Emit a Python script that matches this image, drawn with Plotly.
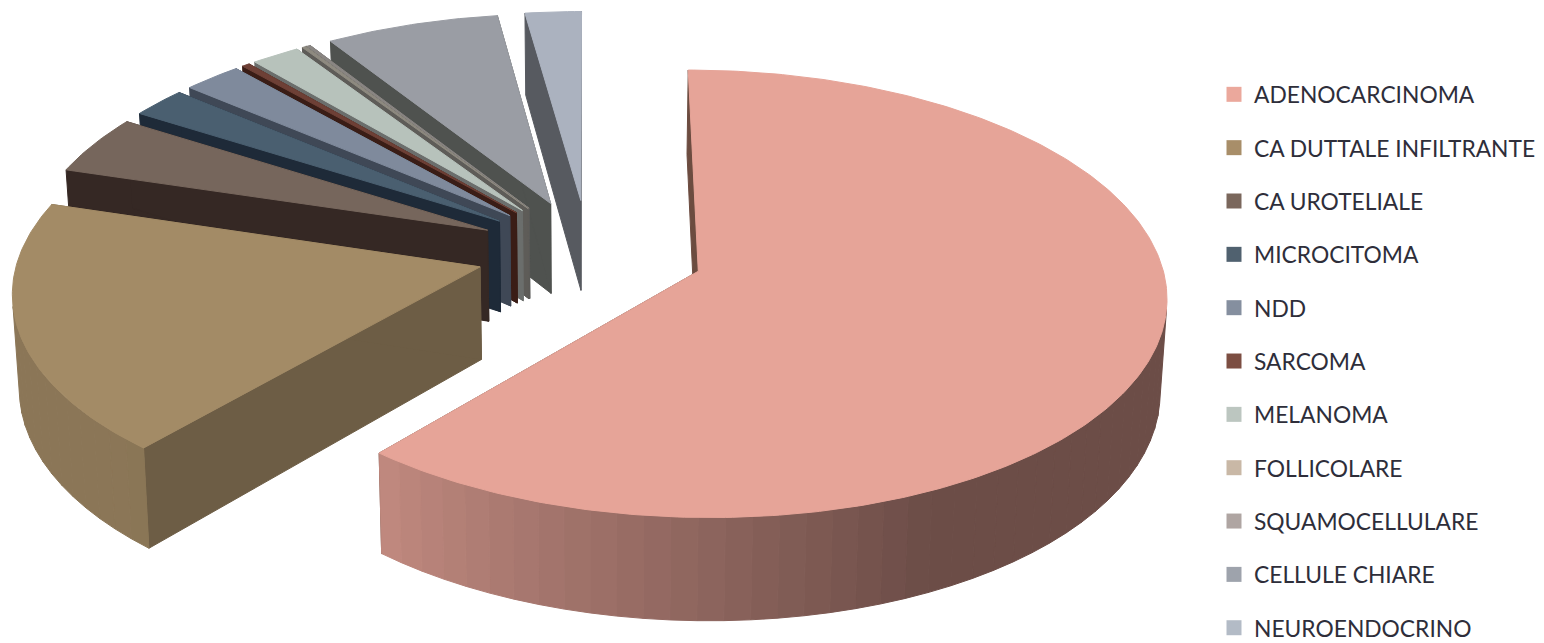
import math
import plotly.graph_objects as go

# Share of each histotype, clockwise from twelve o'clock
categories = ["ADENOCARCINOMA", "CA DUTTALE INFILTRANTE", "CA UROTELIALE", "MICROCITOMA", "NDD",
              "SARCOMA", "MELANOMA", "FOLLICOLARE", "SQUAMOCELLULARE", "CELLULE CHIARE", "NEUROENDOCRINO"]
values = [61.3, 18.4, 4.3, 2.2, 2.3, 0.3, 1.9, 0.15, 0.15, 6.8, 2.2]

legend_colors = ["#EBA89C", "#A88E69", "#7A675C", "#50616F", "#858F9F", "#7C4E42",
                 "#BCC6C0", "#C9B8A6", "#AFA5A2", "#9EA3AC", "#B3BBC6"]
top_colors = ["#E6A498", "#A38B66", "#76665C", "#4A5F70", "#7F8A9C", "#6E4036",
              "#B7C2BB", "#8E8A80", "#8A8683", "#9A9DA4", "#ABB2BF"]
wall_colors = ["#6C4C40", "#6D5D45", "#352824", "#1E2A38", "#3F4856", "#3A1D16",
               "#6B6E6C", "#5E5C58", "#5A5A58", "#4F524F", "#575A60"]
# Radial explode distance of each slice
pulls = [0.252, 0.243, 0.243, 0.243, 0.243, 0.243, 0.243, 0.243, 0.243, 0.243, 0.243]

# Perspective projection of the tilted pie
CX, CY = 588.4, 252.0   # screen position of the pie axis
A, B = 461.0, 217.6     # horizontal and vertical screen radius
K = 0.100               # strength of the foreshortening towards the back
DEPTH = 92.0            # slice thickness on screen
TAPER = 0.012           # horizontal narrowing at the underside


def project(u, v, low=False):
    s = 1.0 / (1.0 + K * v)
    x = CX + A * u * s
    y = CY - B * v * s
    if low:
        x = CX + (x - CX) * (1.0 - TAPER)
        y += DEPTH * s
    return x, y


def shade(color, f):
    r, g, b = (int(color[i:i + 2], 16) for i in (1, 3, 5))
    return f"rgb({r * f:.0f},{g * f:.0f},{b * f:.0f})"


def rim_factor(theta_deg):
    t = min(1.0, max(0.0, (theta_deg - 155.0) / 68.0))
    return 0.47 + 0.38 * t


def signed_area(pts):
    return sum(pts[n][0] * pts[(n + 1) % len(pts)][1] - pts[(n + 1) % len(pts)][0] * pts[n][1]
               for n in range(len(pts))) / 2


def add_poly(fig, pts, color):
    xs, ys = zip(*pts)
    fig.add_trace(go.Scatter(x=list(xs) + [xs[0]], y=list(ys) + [ys[0]], mode="lines", fill="toself",
                             fillcolor=color, line=dict(color=color, width=1),
                             showlegend=False, hoverinfo="skip"))


total = sum(values)
slices = []
start = 0.0
for value in values:
    sweep = 360.0 * value / total
    slices.append((start, start + sweep))
    start += sweep

fig = go.Figure()

# Paint from the back of the pie to the front
for i in reversed(range(len(values))):
    a0, a1 = slices[i]
    mid = math.radians((a0 + a1) / 2)
    u0, v0 = pulls[i] * math.sin(mid), pulls[i] * math.cos(mid)
    steps = max(2, int((a1 - a0) / 3))
    angles = [a0 + (a1 - a0) * k / steps for k in range(steps + 1)]
    rim = [(u0 + math.sin(math.radians(t)), v0 + math.cos(math.radians(t))) for t in angles]

    # radial faces
    for end in (rim[0], rim[-1]):
        add_poly(fig, [project(u0, v0), project(*end), project(*end, low=True), project(u0, v0, low=True)],
                 wall_colors[i])

    # outer curved face, shaded band by band; bands turned away from the viewer are skipped
    for k in range(steps):
        t = (angles[k] + angles[k + 1]) / 2
        band = [project(*rim[k]), project(*rim[k + 1]), project(*rim[k + 1], low=True), project(*rim[k], low=True)]
        if signed_area(band) < 0:
            add_poly(fig, band, shade(top_colors[i], rim_factor(t)))

    # top face, outlined finely with its own colour; the arc is sampled more densely than the bands
    fine = [a0 + (a1 - a0) * k / (steps * 4) for k in range(steps * 4 + 1)]
    outline = [project(u0, v0)] + [project(u0 + math.sin(math.radians(t)), v0 + math.cos(math.radians(t))) for t in fine]
    add_poly(fig, outline, top_colors[i])

# Legend entries
for name, color in zip(categories, legend_colors):
    fig.add_trace(go.Scatter(x=[None], y=[None], mode="markers", name=name, legendgroup=name,
                             marker=dict(symbol="square", size=15, color=color)))

fig.update_layout(
    width=1544, height=643, margin=dict(l=0, r=0, t=0, b=0, autoexpand=False),
    paper_bgcolor="white", plot_bgcolor="white",
    xaxis=dict(range=[0, 1544], visible=False, fixedrange=True),
    yaxis=dict(range=[643, 0], visible=False, fixedrange=True),
    legend=dict(x=1214 / 1544, xanchor="left", y=1 - 73 / 643, yanchor="top", tracegroupgap=20.7,
                maxheight=643, font=dict(family="Lato", size=22.8, color="#2E2E3A"), bgcolor="rgba(0,0,0,0)"),
    font=dict(family="Lato"),
)

fig.write_html("out.html")
